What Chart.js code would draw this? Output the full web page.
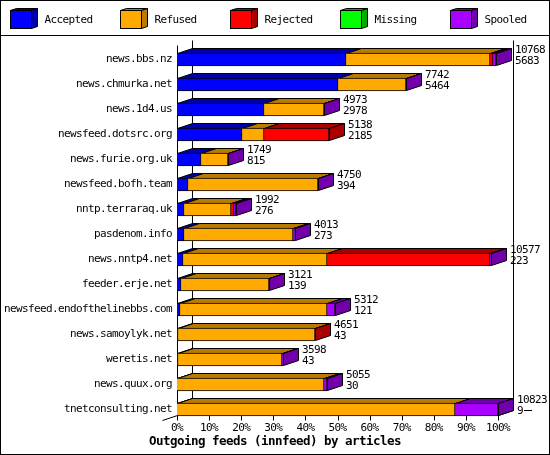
<!DOCTYPE html>
<html>
<head>
<meta charset="utf-8">
<title>Outgoing feeds</title>
<script src="https://cdn.jsdelivr.net/npm/chart.js@4"></script>
<style>
    html, body { margin: 0; padding: 0; background: #fff; }
    canvas { display: block; }
</style>
</head>
<body>
<canvas id="feedsChart" width="550" height="455"></canvas>
<script>
// values are % of articles per feed
const categories = ['news.bbs.nz', 'news.chmurka.net', 'news.1d4.us', 'newsfeed.dotsrc.org', 'news.furie.org.uk',
    'newsfeed.bofh.team', 'nntp.terraraq.uk', 'pasdenom.info', 'news.nntp4.net', 'feeder.erje.net',
    'newsfeed.endofthelinebbs.com', 'news.samoylyk.net', 'weretis.net', 'news.quux.org', 'tnetconsulting.net'];
const accepted = [52.5, 50.3, 27.2, 20.1, 7.4, 3.3, 2.3, 2.3, 1.8, 1.1, 0.9, 0.3, 0.3, 0.1, 0.1];
const refused = [44.9, 20.9, 18.5, 7.1, 8.4, 40.5, 14.4, 33.7, 44.8, 27.5, 45.9, 42.6, 32.5, 45.6, 86.5];
const rejected = [1.0, 0, 0, 20.1, 0, 0, 1.0, 0.6, 51.0, 0, 0, 0.1, 0, 0, 0];
const missing = [0, 0, 0, 0, 0, 0, 0, 0, 0, 0, 0, 0, 0, 0, 0];
const spooled = [0.9, 0.1, 0.1, 0, 0.1, 0.1, 0.7, 0.2, 0.1, 0.1, 2.3, 0, 0.1, 0.9, 13.4];
const offeredLabels = ['10768', '7742', '4973', '5138', '1749', '4750', '1992', '4013', '10577', '3121', '5312', '4651', '3598', '5055', '10823'];
const acceptedLabels = ['5683', '5464', '2978', '2185', '815', '394', '276', '273', '223', '139', '121', '43', '43', '30', '9'];
const xTicks = [0, 10, 20, 30, 40, 50, 60, 70, 80, 90, 100];
const titleText = 'Outgoing feeds (innfeed) by articles';

const seriesNames = ['Accepted', 'Refused', 'Rejected', 'Missing', 'Spooled'];
const seriesColors = ['#0000ff', '#ffaa00', '#ff0000', '#00ff00', '#aa00ff'];
const seriesShades = ['#0000aa', '#b87a00', '#aa0000', '#00aa00', '#7200aa'];
const seriesValues = [accepted, refused, rejected, missing, spooled];

const MONO = '"DejaVu Sans Mono", monospace';
const TEXT_SPACING = '-0.62px';
const DEPTH_X = 15;
const DEPTH_Y = 5;

function poly(ctx, pts, fill) {
    ctx.beginPath();
    pts.forEach((p, i) => i ? ctx.lineTo(p[0], p[1]) : ctx.moveTo(p[0], p[1]));
    ctx.closePath();
    if (fill) {
        ctx.fillStyle = fill;
        ctx.fill();
    }
    ctx.strokeStyle = '#000';
    ctx.lineWidth = 1;
    ctx.stroke();
}

function line(ctx, x1, y1, x2, y2) {
    ctx.beginPath();
    ctx.moveTo(x1, y1);
    ctx.lineTo(x2, y2);
    ctx.strokeStyle = '#000';
    ctx.lineWidth = 1;
    ctx.stroke();
}

// --- snap the bars to whole pixels so the edges stay hard ---
const snapBars = {
    id: 'snapBars',
    afterDatasetsUpdate(chart) {
        chart.data.datasets.forEach((ds, i) => {
            chart.getDatasetMeta(i).data.forEach(bar => {
                bar.x = Math.round(bar.x);
                bar.base = Math.round(bar.base);
            });
        });
    },
    beforeDraw(chart) {
        // the tick labels need the narrow spacing as well
        chart.ctx.letterSpacing = TEXT_SPACING;
    }
};

// --- axis walls and the top/side faces of the 3D bars, under the front faces ---
const box3d = {
    id: 'box3d',
    beforeDatasetsDraw(chart) {
        const ctx = chart.ctx;
        const x = chart.scales.x;
        const { top, bottom } = chart.chartArea;
        const floor = bottom - 6.5;
        const left = Math.round(x.getPixelForValue(0)) + 0.5;
        const right = Math.round(x.getPixelForValue(100)) + 0.5;

        line(ctx, left + DEPTH_X, top - 6.5, left + DEPTH_X, floor - DEPTH_Y);
        line(ctx, right + DEPTH_X, top - 6.5, right + DEPTH_X, floor - DEPTH_Y);
        line(ctx, left, top - 1.5, left, floor);
        line(ctx, left, floor, right, floor);
        line(ctx, right, floor, right + DEPTH_X, floor - DEPTH_Y);
        line(ctx, left, floor, left - DEPTH_X, floor + DEPTH_Y);
        xTicks.forEach(t => {
            const px = Math.round(x.getPixelForValue(t)) + 0.5;
            line(ctx, px, floor, px, floor + 5);
        });

        categories.forEach((c, j) => {
            let last = -1;
            chart.data.datasets.forEach((ds, i) => {
                const bar = chart.getDatasetMeta(i).data[j];
                if (ds.data[j] <= 0) return;
                last = i;
                const yTop = bar.y - bar.height / 2 + 0.5;
                const l = bar.base + 0.5;
                const r = bar.x + 0.5;
                poly(ctx, [[l, yTop], [l + DEPTH_X, yTop - DEPTH_Y], [r + DEPTH_X, yTop - DEPTH_Y], [r, yTop]], seriesShades[i]);
            });
            if (last < 0) return;
            const bar = chart.getDatasetMeta(last).data[j];
            const yTop = bar.y - bar.height / 2 + 0.5;
            const yBot = bar.y + bar.height / 2 - 0.5;
            const r = bar.x + 0.5;
            poly(ctx, [[r, yTop], [r + DEPTH_X, yTop - DEPTH_Y], [r + DEPTH_X, yBot - DEPTH_Y], [r, yBot]], seriesShades[last]);
        });
    },
    afterDatasetsDraw(chart) {
        const ctx = chart.ctx;
        ctx.save();
        ctx.fillStyle = '#000';
        ctx.font = '11px ' + MONO;
        ctx.textAlign = 'left';
        ctx.textBaseline = 'middle';
        categories.forEach((c, j) => {
            const bar = chart.getDatasetMeta(seriesNames.length - 1).data[j];
            ctx.fillText(offeredLabels[j], bar.x + 19, bar.y - 9.5);
            ctx.fillText(acceptedLabels[j], bar.x + 19, bar.y + 1.5);
        });
        // the stray dash behind the last value
        const lastBar = chart.getDatasetMeta(seriesNames.length - 1).data[categories.length - 1];
        line(ctx, lastBar.x + 26, lastBar.y + 1, lastBar.x + 34, lastBar.y + 1);
        ctx.restore();
    }
};

// --- frame, title and the row of cubes at the top ---
const frameLegend = {
    id: 'frameLegend',
    afterDraw(chart) {
        const ctx = chart.ctx;
        ctx.save();
        ctx.strokeStyle = '#000';
        ctx.lineWidth = 1;
        ctx.strokeRect(0.5, 0.5, 549, 454);
        line(ctx, 0, 35.5, 550, 35.5);

        ctx.font = '11px ' + MONO;
        ctx.textAlign = 'left';
        ctx.textBaseline = 'middle';
        seriesNames.forEach((name, i) => {
            const x = 10.5 + i * 110;
            const y = 10.5;
            poly(ctx, [[x, y], [x + 6, y - 2], [x + 27, y - 2], [x + 21, y]], seriesShades[i]);
            poly(ctx, [[x + 21, y], [x + 27, y - 2], [x + 27, y + 16], [x + 21, y + 18]], seriesShades[i]);
            ctx.fillStyle = seriesColors[i];
            ctx.fillRect(x, y, 21, 18);
            ctx.strokeRect(x, y, 21, 18);
            ctx.fillStyle = '#000';
            ctx.fillText(name, x + 34, 20);
        });

        ctx.font = 'bold 12.5px ' + MONO;
        ctx.letterSpacing = '-0.53px';
        ctx.textAlign = 'center';
        ctx.fillText(titleText, 275, 442);
        ctx.restore();
    }
};

new Chart(document.getElementById('feedsChart').getContext('2d'), {
    type: 'bar',
    data: {
        labels: categories,
        datasets: seriesNames.map((name, i) => ({
            label: name,
            data: seriesValues[i],
            backgroundColor: seriesColors[i],
            borderColor: '#000',
            borderWidth: 1,
            barThickness: 13
        }))
    },
    options: {
        indexAxis: 'y',
        responsive: false,
        animation: false,
        devicePixelRatio: 1,
        layout: { padding: { left: 0, right: 52, top: 47, bottom: 19 } },
        scales: {
            x: {
                stacked: true,
                min: 0,
                max: 100,
                grid: { display: false, drawTicks: false },
                border: { display: false },
                afterBuildTicks: scale => { scale.ticks = xTicks.map(v => ({ value: v })); },
                afterFit: scale => { scale.height = 14; },
                ticks: {
                    padding: 0,
                    autoSkip: false,
                    maxRotation: 0,
                    color: '#000',
                    font: { family: MONO, size: 11 },
                    callback: v => v + '%'
                }
            },
            y: {
                stacked: true,
                grid: { display: false, drawTicks: false },
                border: { display: false },
                afterFit: scale => { scale.width = 177; },
                ticks: {
                    padding: 5,
                    autoSkip: false,
                    color: '#000',
                    font: { family: MONO, size: 11 }
                }
            }
        },
        plugins: {
            legend: { display: false },
            tooltip: { enabled: false }
        }
    },
    plugins: [snapBars, box3d, frameLegend]
});
</script>
</body>
</html>
